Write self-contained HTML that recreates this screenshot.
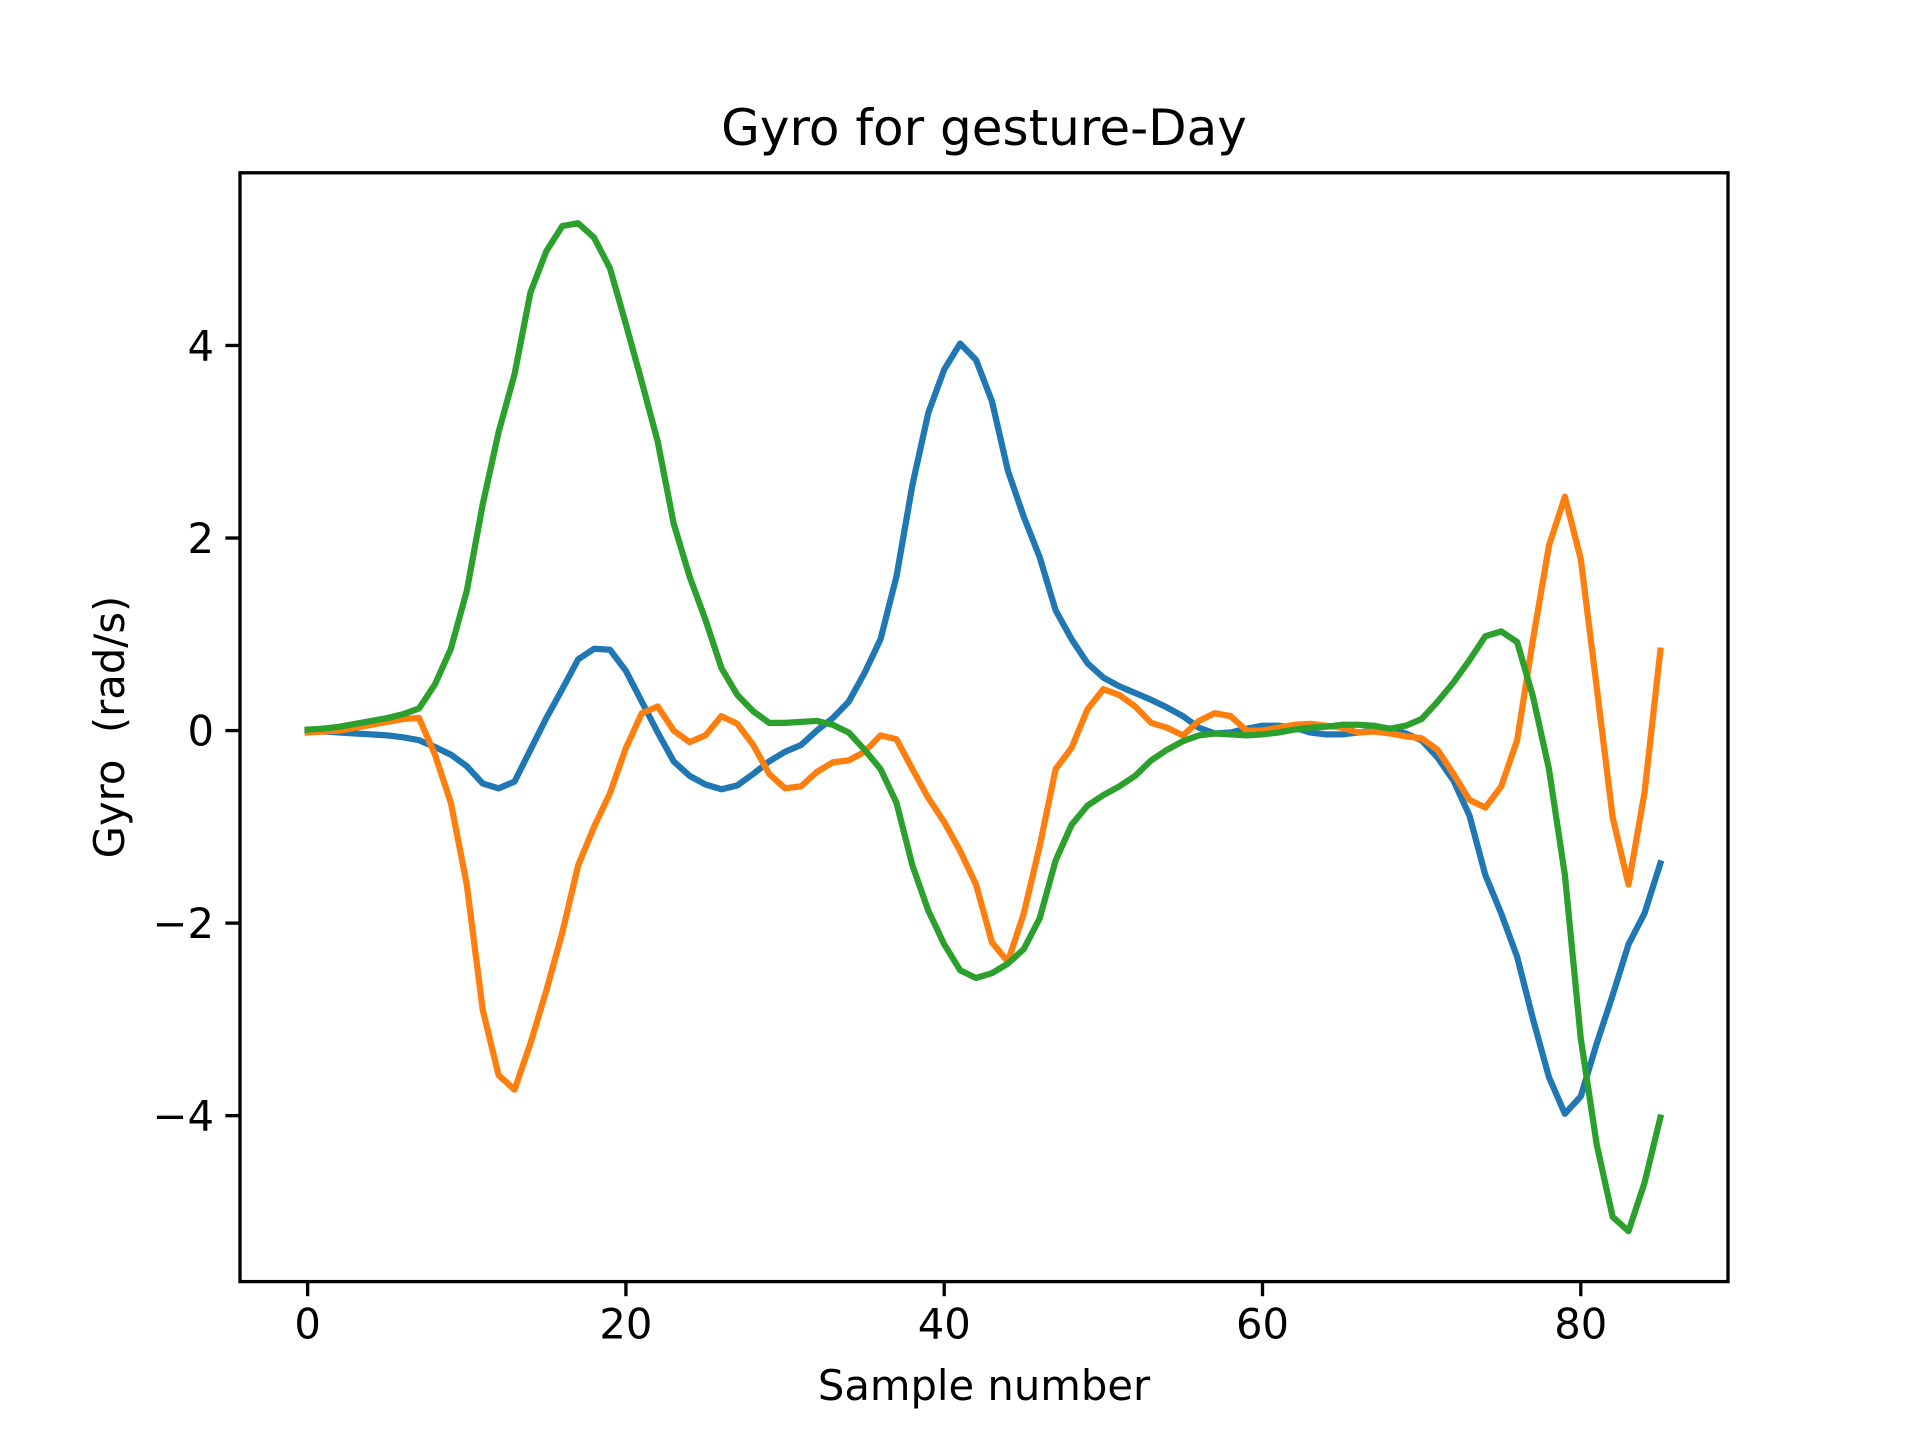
<!DOCTYPE html>
<html><head><meta charset="utf-8"><style>
html,body{margin:0;padding:0;background:#fff;}
svg{display:block;font-family:"DejaVu Sans","Liberation Sans",sans-serif;}
</style></head><body>
<svg id="chart" width="1920" height="1440" viewBox="0 0 1920 1440" xmlns="http://www.w3.org/2000/svg">
<rect width="1920" height="1440" fill="#fff"/>
<text x="984" y="145" font-size="50" text-anchor="middle">Gyro for gesture-Day</text>
<text x="984" y="1400" font-size="41.7" text-anchor="middle">Sample number</text>
<text transform="translate(124,727) rotate(-90)" font-size="41.7" text-anchor="middle" style="white-space:pre" xml:space="preserve">Gyro  (rad/s)</text>
<g id="plot"></g>
<rect x="240" y="172.8" width="1488" height="1108.8" fill="none" stroke="#000" stroke-width="3.33"/>
</svg>
<script>
const xTicks = [0, 20, 40, 60, 80];
const yTicks = [-4, -2, 0, 2, 4];
const yTickLabels = ["\u22124", "\u22122", "0", "2", "4"];
const seriesX = [0.0,-0.01,-0.02,-0.03,-0.04,-0.05,-0.07,-0.1,-0.17,-0.25,-0.37,-0.55,-0.6,-0.53,-0.2,0.13,0.43,0.74,0.85,0.84,0.62,0.3,-0.02,-0.32,-0.47,-0.56,-0.61,-0.57,-0.45,-0.32,-0.22,-0.15,0.0,0.13,0.3,0.6,0.95,1.6,2.55,3.3,3.75,4.02,3.85,3.42,2.7,2.22,1.8,1.25,0.95,0.7,0.55,0.46,0.39,0.32,0.24,0.15,0.03,-0.03,-0.02,0.02,0.05,0.05,0.03,-0.02,-0.04,-0.04,-0.02,0.0,0.01,-0.03,-0.1,-0.28,-0.52,-0.88,-1.5,-1.9,-2.35,-3.0,-3.6,-3.98,-3.8,-3.25,-2.75,-2.22,-1.9,-1.38];
const seriesY = [-0.02,-0.01,0.0,0.03,0.06,0.09,0.12,0.13,-0.25,-0.75,-1.6,-2.9,-3.58,-3.73,-3.25,-2.7,-2.1,-1.4,-1.0,-0.65,-0.18,0.18,0.25,0.0,-0.12,-0.05,0.15,0.07,-0.15,-0.45,-0.6,-0.58,-0.43,-0.33,-0.31,-0.22,-0.05,-0.09,-0.4,-0.7,-0.95,-1.25,-1.6,-2.2,-2.4,-1.9,-1.2,-0.4,-0.18,0.22,0.43,0.37,0.25,0.08,0.03,-0.05,0.1,0.18,0.15,0.0,0.0,0.03,0.06,0.07,0.05,0.03,-0.02,-0.01,-0.03,-0.06,-0.08,-0.2,-0.45,-0.72,-0.8,-0.58,-0.1,0.95,1.92,2.43,1.78,0.45,-0.9,-1.6,-0.65,0.83];
const seriesZ = [0.01,0.02,0.04,0.07,0.1,0.13,0.17,0.23,0.48,0.85,1.45,2.35,3.1,3.7,4.55,4.98,5.24,5.27,5.12,4.8,4.22,3.62,3.0,2.15,1.6,1.15,0.65,0.37,0.2,0.08,0.08,0.09,0.1,0.06,-0.02,-0.2,-0.4,-0.75,-1.4,-1.87,-2.22,-2.49,-2.57,-2.52,-2.42,-2.27,-1.95,-1.35,-0.98,-0.78,-0.67,-0.58,-0.47,-0.31,-0.2,-0.11,-0.05,-0.03,-0.04,-0.05,-0.04,-0.02,0.01,0.03,0.04,0.06,0.06,0.05,0.02,0.05,0.12,0.3,0.5,0.73,0.98,1.03,0.92,0.35,-0.4,-1.5,-3.2,-4.3,-5.05,-5.2,-4.7,-4.02];

const L=240,R=1728,T=172.8,B=1281.6;
const n=seriesX.length;
const xmin=-(n-1)*0.05, xmax=(n-1)*1.05;
const all=seriesX.concat(seriesY,seriesZ);
const dmin=Math.min(...all), dmax=Math.max(...all), pad=(dmax-dmin)*0.05;
const ymin=dmin-pad, ymax=dmax+pad;
const sx=v=>L+(v-xmin)/(xmax-xmin)*(R-L);
const sy=v=>B-(v-ymin)/(ymax-ymin)*(B-T);
const NS="http://www.w3.org/2000/svg";
const svg=document.getElementById('chart');
const plot=document.getElementById('plot');

xTicks.forEach(t=>{
  const ln=document.createElementNS(NS,'line');
  ln.setAttribute('x1',sx(t));ln.setAttribute('x2',sx(t));ln.setAttribute('y1',B);ln.setAttribute('y2',B+14.6);
  ln.setAttribute('stroke','#000');ln.setAttribute('stroke-width','3.33');
  
  
  svg.appendChild(ln);
  const tx=document.createElementNS(NS,'text');
  tx.setAttribute('x',sx(t));tx.setAttribute('y',B+57);tx.setAttribute('font-size','41.7');tx.setAttribute('text-anchor','middle');
  tx.textContent=String(t);
  
  
  svg.appendChild(tx);
});
yTicks.forEach((t,i)=>{
  const ln=document.createElementNS(NS,'line');
  ln.setAttribute('x1',L-14.6);ln.setAttribute('x2',L);ln.setAttribute('y1',sy(t));ln.setAttribute('y2',sy(t));
  ln.setAttribute('stroke','#000');ln.setAttribute('stroke-width','3.33');
  
  
  svg.appendChild(ln);
  const tx=document.createElementNS(NS,'text');
  tx.setAttribute('x',L-26);tx.setAttribute('y',sy(t)+15);tx.setAttribute('font-size','41.7');tx.setAttribute('text-anchor','end');
  tx.textContent=yTickLabels[i];
  
  
  svg.appendChild(tx);
});
const series=[[seriesX,'#1f77b4','gyro-x-line'],[seriesY,'#ff7f0e','gyro-y-line'],[seriesZ,'#2ca02c','gyro-z-line']];
series.forEach(s=>{
  const p=document.createElementNS(NS,'polyline');
  p.setAttribute('points',s[0].map((v,i)=>sx(i).toFixed(2)+','+sy(v).toFixed(2)).join(' '));
  p.setAttribute('fill','none');p.setAttribute('stroke',s[1]);p.setAttribute('stroke-width','6.25');
  p.setAttribute('stroke-linejoin','round');p.setAttribute('stroke-linecap','square');
  
  
  plot.appendChild(p);
});
</script>
</body></html>
